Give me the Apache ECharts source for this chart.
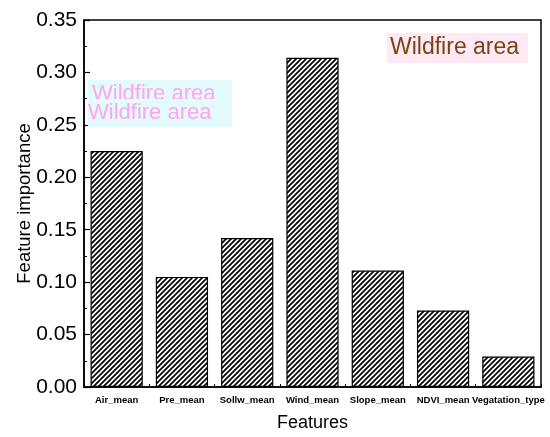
<!DOCTYPE html>
<html>
<head>
<meta charset="utf-8">
<script src="https://cdn.jsdelivr.net/npm/echarts@6/dist/echarts.min.js"></script>
<style>
  html, body { margin: 0; padding: 0; background: #fff; }
  #chart { width: 550px; height: 437px; }
</style>
</head>
<body>
<div id="chart"></div>
<script>
// data
const features = ["Air_mean", "Pre_mean", "Sollw_mean", "Wind_mean", "Slope_mean", "NDVI_mean", "Vegatation_type"];
const importance = [0.225, 0.105, 0.142, 0.314, 0.111, 0.073, 0.029];
const yTicks = [0, 0.05, 0.10, 0.15, 0.20, 0.25, 0.30, 0.35];

// hatch fill "/" lines
function makeHatch() {
  const size = 5;
  const c = document.createElement("canvas");
  c.width = size;
  c.height = size;
  const ctx = c.getContext("2d");
  ctx.fillStyle = "#fff";
  ctx.fillRect(0, 0, size, size);
  ctx.strokeStyle = "#000";
  ctx.lineWidth = 1.7;
  ctx.beginPath();
  ctx.moveTo(-1, size + 1); ctx.lineTo(size + 1, -1);
  ctx.moveTo(-1, 1); ctx.lineTo(1, -1);
  ctx.moveTo(size - 1, size + 1); ctx.lineTo(size + 1, size - 1);
  ctx.stroke();
  return c;
}

const chart = echarts.init(document.getElementById("chart"));
const font = "Liberation Sans, Arial, sans-serif";

chart.setOption({
  animation: false,
  grid: {
    left: 84, right: 9, top: 20, bottom: 50,
    show: true, borderColor: "#000", borderWidth: 1.5, backgroundColor: "transparent"
  },
  xAxis: {
    type: "category",
    data: features,
    name: "Features",
    nameLocation: "middle",
    nameGap: 27,
    nameTextStyle: { fontSize: 18, fontFamily: font, color: "#000" },
    axisLine: { lineStyle: { color: "#000", width: 1.5 } },
    axisTick: { show: true, inside: true, length: 3, lineStyle: { color: "#000" } },
    axisLabel: { fontSize: 9.5, fontWeight: "bold", fontFamily: font, color: "#000", margin: 8, interval: 0 }
  },
  yAxis: {
    type: "value",
    min: yTicks[0],
    max: yTicks[yTicks.length - 1],
    interval: 0.05,
    name: "Feature importance",
    nameLocation: "middle",
    nameMoveOverlap: false,
    nameGap: 50,
    nameTextStyle: { fontSize: 18.5, fontFamily: font, color: "#000" },
    axisLine: { show: true, lineStyle: { color: "#000", width: 1.5 } },
    axisTick: { show: true, inside: true, length: 6, lineStyle: { color: "#000", width: 1.2 } },
    minorTick: { show: true, splitNumber: 2, length: 3, lineStyle: { color: "#000" } },
    splitLine: { show: false },
    axisLabel: {
      fontSize: 21, fontFamily: font, color: "#000", margin: 7,
      formatter: v => v.toFixed(2)
    }
  },
  series: [{
    type: "bar",
    data: importance,
    barCategoryGap: "20%",
    itemStyle: {
      color: { image: makeHatch(), repeat: "repeat" },
      borderColor: "#000",
      borderWidth: 1.2
    }
  }],
  graphic: [
    // ghost duplicated label on the left
    { type: "rect", shape: { x: 88, y: 80, width: 144, height: 47 }, style: { fill: "#e3fbfb" }, z: 1 },
    { type: "text", x: 92, y: 94, style: { text: "Wildfire area", font: "22px Liberation Sans, Arial", fill: "#ffa4f2", verticalAlign: "middle" }, z: 2 },
    { type: "rect", shape: { x: 88, y: 99, width: 144, height: 5 }, style: { fill: "#e3fbfb" }, z: 3 },
    { type: "text", x: 88, y: 113, style: { text: "Wildfire area", font: "22px Liberation Sans, Arial", fill: "#ffa4f2", verticalAlign: "middle" }, z: 4 },
    // top-right label
    { type: "rect", shape: { x: 387, y: 33, width: 141, height: 30 }, style: { fill: "#fde8f4" }, z: 1 },
    { type: "text", x: 390, y: 48, style: { text: "Wildfire area", font: "23px Liberation Sans, Arial", fill: "#7a4515", verticalAlign: "middle" }, z: 2 }
  ]
});
</script>
</body>
</html>
